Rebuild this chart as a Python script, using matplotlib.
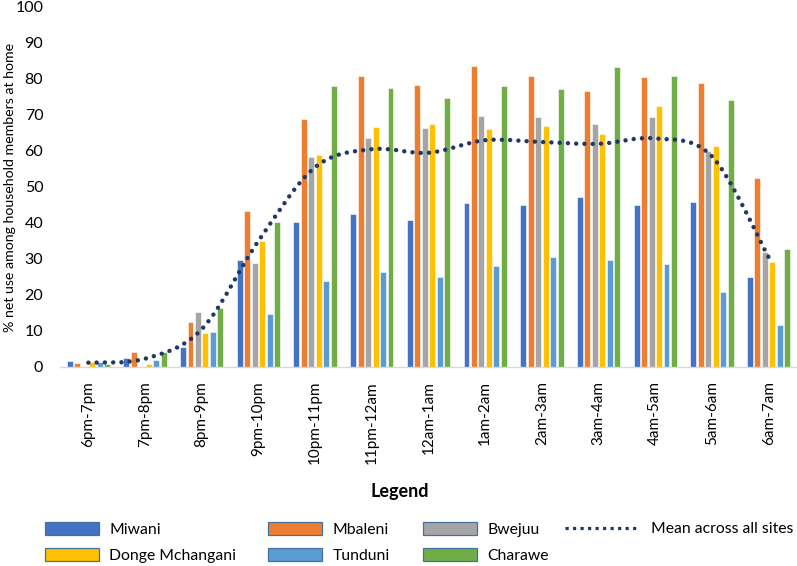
import matplotlib
matplotlib.use("Agg")
import matplotlib.pyplot as plt
import numpy as np
from matplotlib.path import Path
from matplotlib.patches import PathPatch, Patch
from matplotlib.lines import Line2D

plt.rcParams['font.family'] = ['Lato', 'DejaVu Sans']

categories = ["6pm-7pm", "7pm-8pm", "8pm-9pm", "9pm-10pm", "10pm-11pm", "11pm-12am",
              "12am-1am", "1am-2am", "2am-3am", "3am-4am", "4am-5am", "5am-6am", "6am-7am"]

miwani  = [1.7, 2.6, 5.6, 29.7, 40.4, 42.5, 40.9, 45.5, 44.9, 47.3, 44.9, 45.8, 25.1]
mbaleni = [1.2, 4.2, 12.4, 43.3, 69.0, 80.7, 78.3, 83.5, 80.8, 76.8, 80.6, 79.0, 52.6]
bwejuu  = [0.0, 0.0, 15.4, 28.8, 58.4, 63.5, 66.4, 69.8, 69.5, 67.4, 69.5, 60.1, 31.9]
donge   = [1.4, 0.8, 9.4, 35.1, 58.9, 66.8, 67.4, 66.1, 67.0, 64.6, 72.5, 61.4, 29.2]
tunduni = [1.4, 2.0, 9.6, 14.8, 23.9, 26.4, 25.1, 28.1, 30.5, 29.7, 28.5, 20.9, 11.7]
charawe = [0.8, 4.2, 16.3, 40.4, 78.0, 77.5, 74.7, 78.0, 77.1, 83.2, 80.8, 74.1, 32.8]
mean_all = [1.2, 2.3, 10.5, 35.0, 55.5, 60.5, 59.5, 63.0, 62.5, 62.0, 63.5, 58.5, 30.5]

series = [("Miwani", miwani, "#4472C4"),
          ("Mbaleni", mbaleni, "#ED7D31"),
          ("Bwejuu", bwejuu, "#A5A5A5"),
          ("Donge Mchangani", donge, "#FFC000"),
          ("Tunduni", tunduni, "#5B9BD5"),
          ("Charawe", charawe, "#70AD47")]
mean_color = "#203864"

W, H = 797, 566
fig = plt.figure(figsize=(W/100, H/100), dpi=100)
ax = fig.add_axes([60/W, 1-367/H, 737/W, 360/H])

x = np.arange(len(categories))
pitch = 0.132
bw = 0.105
for i, (name, vals, col) in enumerate(series):
    ax.bar(x + (i - 2.5) * pitch, vals, width=bw, color=col, edgecolor='white', linewidth=0.4, zorder=2)

# smoothed mean line (Bezier through the points, Excel-style smoothing)
pts = np.column_stack([x, mean_all]).astype(float)
verts = [tuple(pts[0])]
codes = [Path.MOVETO]
n = len(pts)
for k in range(n - 1):
    p0 = pts[k - 1] if k > 0 else pts[k]
    p1 = pts[k]
    p2 = pts[k + 1]
    p3 = pts[k + 2] if k + 2 < n else pts[k + 1]
    c1 = p1 + (p2 - p0) / 6.0
    c2 = p2 - (p3 - p1) / 6.0
    verts += [tuple(c1), tuple(c2), tuple(p2)]
    codes += [Path.CURVE4, Path.CURVE4, Path.CURVE4]
path = Path(verts, codes)
pp = PathPatch(path, facecolor='none', edgecolor=mean_color, linewidth=3.2,
               linestyle=(0, (0.01, 1.85)), capstyle='round', zorder=3)
ax.add_patch(pp)

ax.set_xlim(-0.5, len(categories) - 0.5)
ax.set_ylim(0, 100)
ax.set_yticks(np.arange(0, 101, 10))
ax.set_xticks(x)
ax.set_xticklabels(categories, rotation=90, fontsize=11)
ax.tick_params(axis='x', length=0, pad=10)
ax.tick_params(axis='y', length=0, pad=12, labelsize=11.5)
for s in ['top', 'right', 'left']:
    ax.spines[s].set_visible(False)
ax.spines['bottom'].set_color('#D9D9D9')
ax.spines['bottom'].set_linewidth(1.0)
fig.text(10/W, 1-187/H, "% net use among household members at home", fontsize=10.2,
         rotation=90, ha='center', va='center')

fig.text(400/W, 1-491/H, "Legend", ha='center', va='center', fontsize=13, fontweight='bold')

edge = "#41719C"
h = {name: Patch(facecolor=col, edgecolor=edge, linewidth=0.9) for name, vals, col in series}
mean_h = Line2D([0], [0], color=mean_color, linewidth=2.3, linestyle=(0, (1.0, 1.35)),
                dash_capstyle='butt')

fs = 11.3
cols = [(45, [h["Miwani"], h["Donge Mchangani"]], ["Miwani", "Donge Mchangani"], 3.45, 0.65),
        (268, [h["Mbaleni"], h["Tunduni"]], ["Mbaleni", "Tunduni"], 3.45, 0.65),
        (423, [h["Bwejuu"], h["Charawe"]], ["Bwejuu", "Charawe"], 3.45, 0.65),
        (565, [mean_h], ["Mean across all sites"], 4.5, 1.0)]
for xl, hs, ls, hl, tp in cols:
    yc = 529 if len(hs) == 1 else 542.5
    fig.legend(hs, ls, loc='center left', bbox_to_anchor=(xl/W, 1-yc/H), ncol=1,
               frameon=False, fontsize=fs, handlelength=hl, handleheight=0.85,
               handletextpad=tp, labelspacing=0.72, borderpad=0, borderaxespad=0)

fig.savefig("out.png", dpi=100)
